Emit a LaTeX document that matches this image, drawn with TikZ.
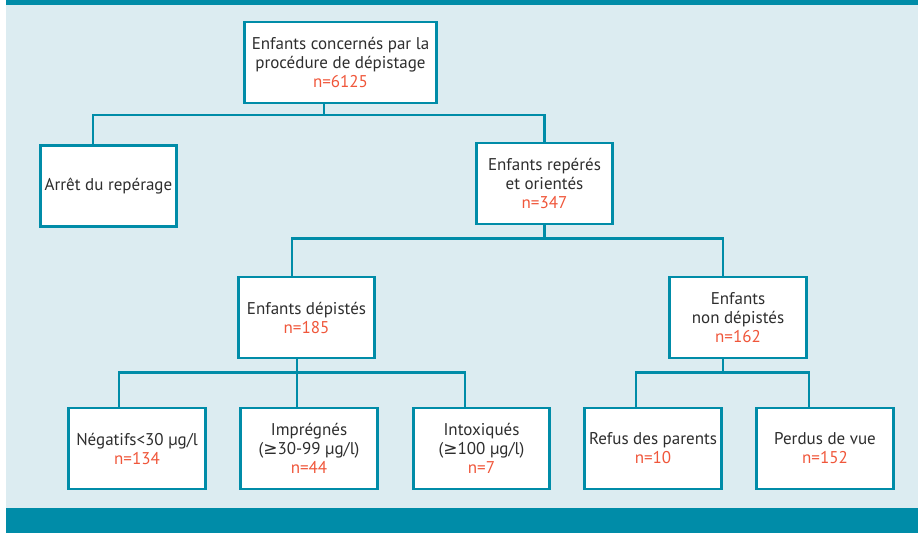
\documentclass[tikz,border=0pt]{standalone}
\usepackage{fontspec}
\setmainfont{PT Sans}
\newfontfamily\symfont{DejaVu Sans}
\definecolor{bandcol}{HTML}{008CA8}
\definecolor{bgcol}{HTML}{DCECF1}
\definecolor{redcol}{HTML}{F0563A}
\definecolor{txtcol}{HTML}{2E2E2E}
\newcommand{\nval}[1]{\textcolor{redcol}{n=#1}}
\begin{document}
\begin{tikzpicture}[x=1pt,y=-1pt,
    box/.style={draw=bandcol, line width=2.6pt, fill=white, minimum width=136.5pt,
      minimum height=81pt, align=center, text=txtcol, inner sep=2pt,
      font=\fontsize{17}{19}\selectfont},
    link/.style={draw=bandcol, line width=2.6pt}]
    \useasboundingbox (0,0) rectangle (918,533);
    % Background and bands
    \fill[bgcol] (6,0) rectangle (918,533);
    \fill[bandcol] (6,0) rectangle (918,5);
    \fill[bandcol] (6,508) rectangle (918,533);

    % Boxes
    \node[box, minimum width=192.5pt] (total) at (340.5,62.5)
      {Enfants concernés par la\\procédure de dépistage\\\nval{6125}};
    \node[box] (arret) at (108.5,186) {Arrêt du repérage};
    \node[box] (reperes) at (544.5,183.5)
      {Enfants repérés\\et orientés\\\nval{347}};
    \node[box] (depistes) at (306.5,317.5) {Enfants dépistés\\\nval{185}};
    \node[box] (nondep) at (738,317.5) {Enfants\\non dépistés\\\nval{162}};
    \node[box] (negatifs) at (137,448.5) {Négatifs<30 µg/l\\\nval{134}};
    \node[box] (impregnes) at (309,448.5)
      {Imprégnés\\({\symfont ≥}30-99 µg/l)\\\nval{44}};
    \node[box] (intox) at (481.5,448.5)
      {Intoxiqués\\({\symfont ≥}100 µg/l)\\\nval{7}};
    \node[box] (refus) at (653,448.5) {Refus des parents\\\nval{10}};
    \node[box] (perdus) at (825,448.5) {Perdus de vue\\\nval{152}};

    % Links
    \draw[link] ([xshift=-16.5pt]total.south) -- ++(0,10.5) -| ([xshift=-15.5pt]arret.north);
    \draw[link] ([xshift=-16.5pt]total.south) -- ++(0,10.5) -| (reperes.north);
    \draw[link] (reperes.south) -- ++(0,13) -| ([xshift=-14.5pt]depistes.north);
    \draw[link] (reperes.south) -- ++(0,13) -| ([xshift=-15pt]nondep.north);
    \draw[link] ([xshift=-9.5pt]depistes.south) -- ++(0,13) -| ([xshift=-18pt]negatifs.north);
    \draw[link] ([xshift=-9.5pt]depistes.south) -- ++(0,13) -| ([xshift=-12pt]impregnes.north);
    \draw[link] ([xshift=-9.5pt]depistes.south) -- ++(0,13) -| ([xshift=-16.5pt]intox.north);
    \draw[link] ([xshift=-15pt]nondep.south) -- ++(0,13) -| ([xshift=-17pt]refus.north);
    \draw[link] ([xshift=-15pt]nondep.south) -- ++(0,13) -| ([xshift=-16pt]perdus.north);
\end{tikzpicture}
\end{document}
